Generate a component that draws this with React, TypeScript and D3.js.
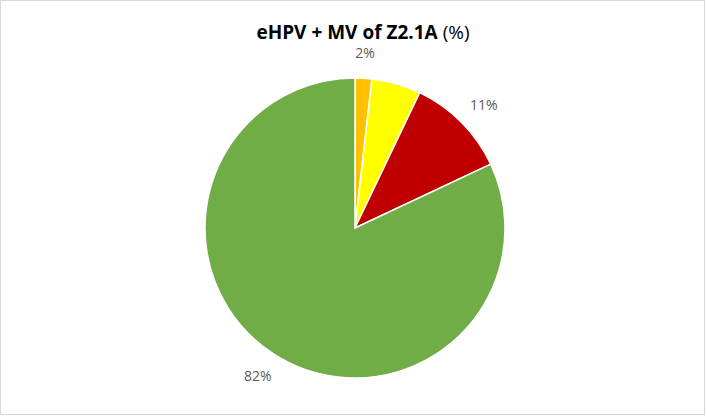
import React from 'react';
import * as d3 from 'd3';

// data
const categories = ['A', 'B', 'C', 'D'];
const values = [1.8, 5.3, 10.9, 82.0];
const labels = ['2%', null, '11%', '82%'];
const colors = ['#FFC000', '#FFFF00', '#C00000', '#70AD47'];
const title = 'eHPV + MV of Z2.1A';

const W = 706;
const H = 416;
const cx = 355;
const cy = 228;
const radius = 150;

const App = () => {
  const pie = d3.pie<number>().sort(null).value(d => d);
  const arcs = pie(values);
  const arc = d3.arc<d3.PieArcDatum<number>>().innerRadius(0).outerRadius(radius);

  const labelPos = (a: d3.PieArcDatum<number>, i: number) => {
    const mid = (a.startAngle + a.endAngle) / 2;
    const r = radius + 18;
    const s = Math.sin(mid);
    const c = Math.cos(mid);
    const w = (labels[i] || '').length * 9;
    // push the label box out so its nearest edge sits at the anchor point
    return [cx + r * s + (w / 2) * s, cy - r * c - 7 * c];
  };

  return (
    <svg width={W} height={H} style={{ position: 'absolute', left: 0, top: 0 }}>
      <rect x={0} y={0} width={W} height={H} fill="#fff" />
      <rect x={0.5} y={0.5} width={W - 2} height={H - 2} fill="none" stroke="#D9D9D9" />
      <text x={cx + 8} y={39} textAnchor="middle" fontFamily="'Open Sans', sans-serif" fontSize={19} fill="#000">
        <tspan fontWeight="bold">{title}</tspan>
        <tspan> (%)</tspan>
      </text>
      <g transform={`translate(${cx},${cy})`}>
        {arcs.map((a, i) => (
          <path key={categories[i]} d={arc(a) || ''} fill={colors[i]} stroke="#fff" strokeWidth={1.5} />
        ))}
      </g>
      {arcs.map((a, i) => {
        if (!labels[i]) return null;
        const [x, y] = labelPos(a, i);
        return (
          <text key={'l' + i} x={x} y={y} dy="0.35em" textAnchor="middle"
            fontFamily="'Open Sans', sans-serif" fontSize={14} fill="#595959">
            {labels[i]}
          </text>
        );
      })}
    </svg>
  );
};

export default App;
